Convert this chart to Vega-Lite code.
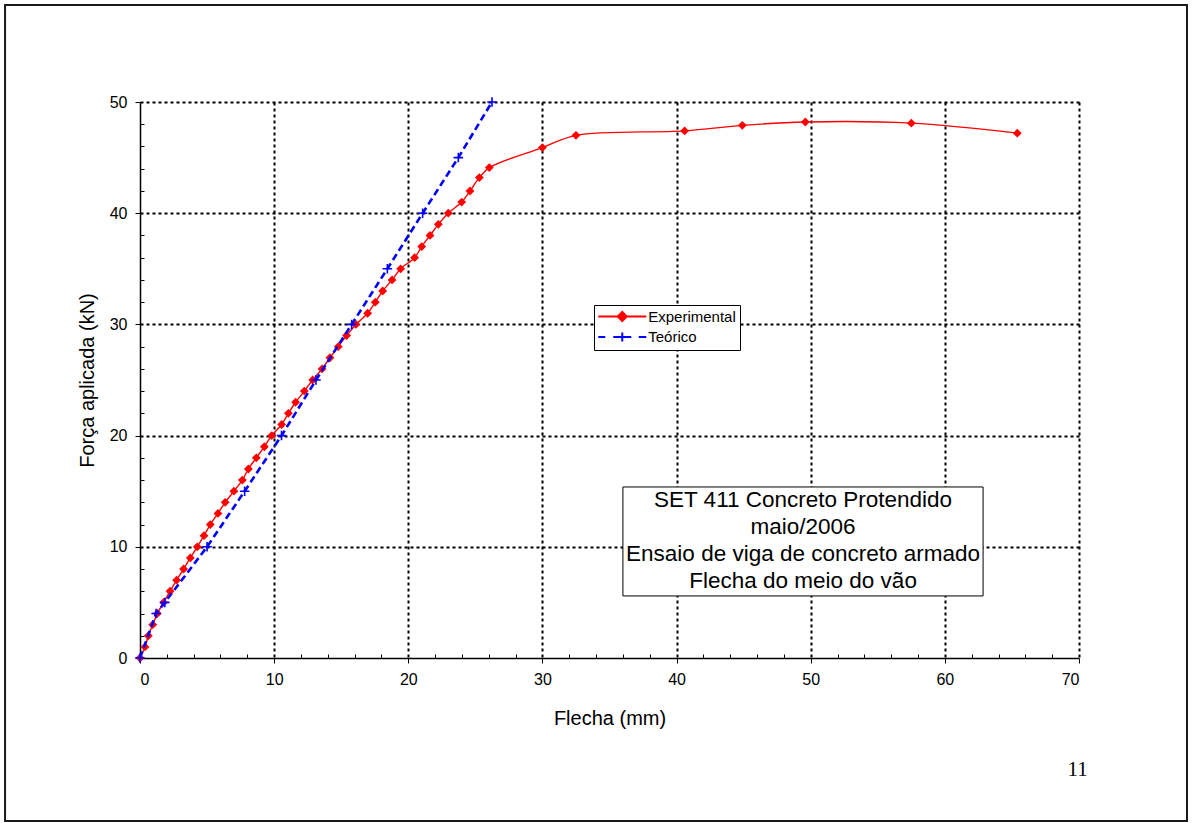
{
  "$schema": "https://vega.github.io/schema/vega-lite/v6.json",
  "width": 939,
  "height": 556,
  "autosize": "none",
  "padding": {"left": 140, "top": 102, "right": 113, "bottom": 165},
  "background": "white",
  "config": {"view": {"stroke": null}, "font": "Liberation Sans"},
  "datasets": {
    "exp": [
      {"flecha": 0, "forca": 0}, {"flecha": 0.37, "forca": 1}, {"flecha": 0.62, "forca": 2},
      {"flecha": 0.95, "forca": 3}, {"flecha": 1.29, "forca": 4}, {"flecha": 1.76, "forca": 5},
      {"flecha": 2.24, "forca": 6}, {"flecha": 2.73, "forca": 7}, {"flecha": 3.25, "forca": 8},
      {"flecha": 3.75, "forca": 9}, {"flecha": 4.27, "forca": 10}, {"flecha": 4.77, "forca": 11},
      {"flecha": 5.24, "forca": 12}, {"flecha": 5.81, "forca": 13}, {"flecha": 6.35, "forca": 14},
      {"flecha": 7.0, "forca": 15}, {"flecha": 7.63, "forca": 16}, {"flecha": 8.08, "forca": 17},
      {"flecha": 8.67, "forca": 18}, {"flecha": 9.27, "forca": 19}, {"flecha": 9.82, "forca": 20},
      {"flecha": 10.56, "forca": 21}, {"flecha": 11.06, "forca": 22}, {"flecha": 11.6, "forca": 23},
      {"flecha": 12.25, "forca": 24}, {"flecha": 12.87, "forca": 25}, {"flecha": 13.57, "forca": 26},
      {"flecha": 14.16, "forca": 27}, {"flecha": 14.78, "forca": 28}, {"flecha": 15.4, "forca": 29},
      {"flecha": 16.1, "forca": 30}, {"flecha": 16.97, "forca": 31}, {"flecha": 17.54, "forca": 32},
      {"flecha": 18.09, "forca": 33}, {"flecha": 18.79, "forca": 34}, {"flecha": 19.43, "forca": 35},
      {"flecha": 20.47, "forca": 36}, {"flecha": 21.0, "forca": 37}, {"flecha": 21.62, "forca": 38},
      {"flecha": 22.24, "forca": 39}, {"flecha": 22.98, "forca": 40}, {"flecha": 23.98, "forca": 41},
      {"flecha": 24.6, "forca": 42}, {"flecha": 25.3, "forca": 43.2}, {"flecha": 26.04, "forca": 44.1},
      {"flecha": 30.0, "forca": 45.9}, {"flecha": 32.5, "forca": 47.0}, {"flecha": 40.6, "forca": 47.4},
      {"flecha": 44.9, "forca": 47.9}, {"flecha": 49.6, "forca": 48.2}, {"flecha": 57.5, "forca": 48.1},
      {"flecha": 65.4, "forca": 47.2}
    ],
    "teo": [
      {"flecha": 0, "forca": 0}, {"flecha": 1.2, "forca": 4}, {"flecha": 1.85, "forca": 5},
      {"flecha": 5.0, "forca": 10}, {"flecha": 7.8, "forca": 15}, {"flecha": 10.55, "forca": 20},
      {"flecha": 13.12, "forca": 25}, {"flecha": 15.78, "forca": 30}, {"flecha": 18.44, "forca": 35},
      {"flecha": 21.07, "forca": 40}, {"flecha": 23.73, "forca": 45}, {"flecha": 26.24, "forca": 50}
    ]
  },
  "layer": [
    {
      "data": {"values": [{}]},
      "mark": {"type": "rect", "fill": "transparent", "stroke": "#1a1a1a", "strokeWidth": 2},
      "encoding": {
        "x": {"datum": -10.06}, "x2": {"datum": 78.05},
        "y": {"datum": 58.72}, "y2": {"datum": -14.66}
      }
    },
    {
      "data": {"name": "exp"},
      "mark": {"type": "line", "color": "#ff0000", "strokeWidth": 1.4, "interpolate": "catmull-rom"},
      "encoding": {
        "x": {
          "field": "flecha", "type": "quantitative",
          "scale": {"domain": [0, 70], "nice": false, "zero": false},
          "axis": {
            "title": "Flecha (mm)",
            "values": [0,2,4,6,8,10,12,14,16,18,20,22,24,26,28,30,32,34,36,38,40,42,44,46,48,50,52,54,56,58,60,62,64,66,68,70],
            "tickCount": 100,
            "format": "d",
            "labelExpr": "datum.value % 10 === 0 ? datum.label : ''",
            "labelOverlap": false,
            "labelFont": "Liberation Sans", "labelFontSize": 16, "labelColor": "black", "labelPadding": 8,
            "tickColor": "black", "tickWidth": 1,
            "tickSize": {"condition": {"test": "datum.value % 10 === 0", "value": 5}, "value": -4},
            "domainColor": "black", "domainWidth": 1.5,
            "grid": true, "gridColor": "black", "gridDash": [3, 3], "gridWidth": 2,
            "gridOpacity": {"condition": {"test": "datum.value % 10 === 0 && datum.value > 0", "value": 1}, "value": 0},
            "titleFont": "Liberation Sans", "titleFontSize": 20, "titleFontWeight": "normal", "titleColor": "black", "titlePadding": 21
          }
        },
        "y": {
          "field": "forca", "type": "quantitative",
          "scale": {"domain": [0, 50], "nice": false, "zero": false},
          "axis": {
            "title": "Força aplicada (kN)",
            "values": [0,2,4,6,8,10,12,14,16,18,20,22,24,26,28,30,32,34,36,38,40,42,44,46,48,50],
            "tickCount": 100,
            "format": "d",
            "labelExpr": "datum.value % 10 === 0 ? datum.label : ''",
            "labelOverlap": false,
            "labelFont": "Liberation Sans", "labelFontSize": 16, "labelColor": "black", "labelPadding": 8,
            "tickColor": "black", "tickWidth": 1,
            "tickSize": {"condition": {"test": "datum.value % 10 === 0", "value": 5}, "value": -4},
            "domainColor": "black", "domainWidth": 1.5,
            "grid": true, "gridColor": "black", "gridDash": [3, 3], "gridWidth": 2,
            "gridOpacity": {"condition": {"test": "datum.value % 10 === 0 && datum.value > 0", "value": 1}, "value": 0},
            "titleFont": "Liberation Sans", "titleFontSize": 20, "titleFontWeight": "normal", "titleColor": "black", "titlePadding": 12
          }
        }
      }
    },
    {
      "data": {"name": "exp"},
      "mark": {"type": "point", "shape": "diamond", "filled": true, "color": "#ff0000", "size": 78, "opacity": 1},
      "encoding": {
        "x": {"field": "flecha", "type": "quantitative"},
        "y": {"field": "forca", "type": "quantitative"}
      }
    },
    {
      "data": {"name": "teo"},
      "mark": {"type": "line", "color": "#0000ff", "strokeWidth": 2.6, "strokeDash": [7, 4]},
      "encoding": {
        "x": {"field": "flecha", "type": "quantitative"},
        "y": {"field": "forca", "type": "quantitative"}
      }
    },
    {
      "data": {"name": "teo"},
      "mark": {"type": "point", "shape": "M-1,0H1M0,-1V1", "filled": false, "color": "#0000ff", "size": 90, "strokeWidth": 1.6, "opacity": 1},
      "encoding": {
        "x": {"field": "flecha", "type": "quantitative"},
        "y": {"field": "forca", "type": "quantitative"}
      }
    },
    {
      "data": {"values": []},
      "mark": {"type": "point", "filled": false, "fill": "#ff0000", "strokeWidth": 2, "opacity": 1},
      "encoding": {
        "color": {
          "field": "serie", "type": "nominal",
          "scale": {"domain": ["Experimental", "Teórico"], "range": ["#ff0000", "#0000ff"]},
          "legend": {
            "title": null, "orient": "none", "legendX": 454, "legendY": 203,
            "strokeColor": "black", "fillColor": "white", "padding": 4,
            "symbolSize": 100, "symbolStrokeWidth": 2, "symbolFillColor": "#ff0000", "symbolOffset": 16.75,
            "labelFont": "Liberation Sans", "labelFontSize": 15, "labelColor": "black", "labelOffset": 18.5,
            "rowPadding": 3.5
          }
        },
        "shape": {
          "field": "serie", "type": "nominal",
          "scale": {
            "domain": ["Experimental", "Teórico"],
            "range": ["M-4.8,0H4.8M0,-0.9L0.9,0L0,0.9L-0.9,0Z", "M-4.8,0H-3.4M-1.8,0H1.8M3.3,0H4.8M0,-0.9V0.9"]
          },
          "legend": {
            "title": null, "orient": "none", "legendX": 454, "legendY": 203,
            "strokeColor": "black", "fillColor": "white", "padding": 4,
            "symbolSize": 100, "symbolStrokeWidth": 2, "symbolFillColor": "#ff0000", "symbolOffset": 16.75,
            "labelFont": "Liberation Sans", "labelFontSize": 15, "labelColor": "black", "labelOffset": 18.5,
            "rowPadding": 3.5
          }
        }
      }
    },
    {
      "data": {"values": [{}]},
      "mark": {"type": "rect", "fill": "white", "stroke": "black", "strokeWidth": 1},
      "encoding": {
        "x": {"datum": 36.0}, "x2": {"datum": 62.85},
        "y": {"datum": 15.38}, "y2": {"datum": 5.58}
      }
    },
    {
      "data": {"values": [{}]},
      "mark": {"type": "text", "align": "center", "baseline": "middle", "font": "Liberation Sans", "fontSize": 22.5, "lineHeight": 27, "color": "black"},
      "encoding": {
        "x": {"datum": 49.43},
        "y": {"datum": 14.2},
        "text": {"value": ["SET 411 Concreto Protendido", "maio/2006", "Ensaio de viga de concreto armado", "Flecha do meio do vão"]}
      }
    },
    {
      "data": {"values": [{}]},
      "mark": {"type": "text", "align": "center", "baseline": "middle", "font": "Liberation Serif", "fontSize": 21, "color": "black"},
      "encoding": {
        "x": {"datum": 69.89},
        "y": {"datum": -10.03},
        "text": {"value": "11"}
      }
    }
  ]
}
